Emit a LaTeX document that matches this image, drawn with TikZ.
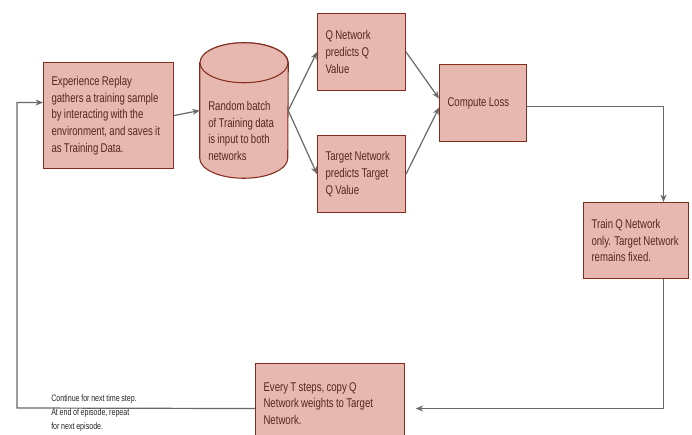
\documentclass[tikz,border=0pt]{standalone}
\usepackage{fontspec}
\setmainfont{Liberation Sans}[FakeStretch=0.76, WordSpace=0.85]
\usetikzlibrary{arrows.meta}
\definecolor{boxfill}{RGB}{230,184,175}
\definecolor{boxline}{RGB}{133,45,30}
\definecolor{boxtext}{RGB}{85,40,35}
\definecolor{wire}{RGB}{105,105,105}
\newcommand{\nohyph}{\hyphenpenalty10000\relax}

\begin{document}
\begin{tikzpicture}[
  x=0.75pt, y=-0.75pt,
  font=\fontsize{9.5}{12.6}\selectfont, >={Stealth[length=5.5pt,width=4.5pt]},
  stepbox/.style={draw=boxline, fill=boxfill, line width=0.8pt, anchor=north west, align=flush left, inner xsep=6pt, text=boxtext,
                  execute at begin node={\nohyph}},
  drum/.style={draw=boxline, fill=boxfill, line width=0.8pt},
  flow/.style={->, line width=0.9pt, draw=wire},
  note/.style={font=\fontsize{7}{10.5}\selectfont, align=left, inner sep=0pt, anchor=north west, text=black!85},
]
\useasboundingbox (0,0) rectangle (692,435);
\fill[white] (0,0) rectangle (692,435);

% ------------------------------------------------------------------ steps
\node[stepbox, text width=85.5pt, minimum height=79.5pt] (replay) at (43,62)
  {Experience Replay\\gathers a training sample\\by interacting with the\\environment, and saves it\\as Training Data.};

% data store drawn as a drum round an empty node
\node[minimum width=66pt, minimum height=101.25pt, inner sep=0pt] (batch) at (244,110.5) {};
\path[drum] ([yshift=-15pt]batch.north west) -- ([yshift=15pt]batch.south west)
  arc[start angle=180, end angle=360, x radius=33pt, y radius=15pt]
  -- ([yshift=-15pt]batch.north east)
  arc[start angle=0, end angle=180, x radius=33pt, y radius=15pt] -- cycle;
\draw[drum] ([yshift=-15pt]batch.north) ellipse[x radius=33pt, y radius=15pt];
\node[anchor=west, align=left, inner sep=0pt, text=boxtext] (batchtext) at (208,131)
  {Random batch\\of Training data\\is input to both\\networks};

\node[stepbox, text width=54pt, minimum height=57.75pt] (qnet) at (317,13)
  {Q Network\\predicts Q\\Value};
\node[stepbox, text width=54pt, minimum height=57.75pt] (target) at (317,135)
  {Target Network\\predicts Target\\Q Value};

\node[stepbox, text width=53.25pt, minimum height=57.75pt] (loss) at (439,64)
  {Compute Loss};

\node[stepbox, text width=66.75pt, minimum height=57pt] (train) at (583,202)
  {Train Q Network\\only. Target Network\\remains fixed.};

\node[stepbox, text width=99.75pt, minimum height=60pt] (copy) at (255,363)
  {Every T steps, copy Q\\Network weights to Target\\Network.};

% ------------------------------------------------------------------ flow
\draw[flow] (replay.east) -- (batch.west);
\draw[flow] (batch.east) -- (qnet.west);
\draw[flow] (batch.east) -- (target.west);
\draw[flow] (qnet.east) -- ([yshift=3.4pt]loss.west);
\draw[flow] (target.east) -- ([yshift=-3.4pt]loss.west);
\draw[flow] ([yshift=-2.6pt]loss.east) -| ([xshift=20.6pt]train.north);
\draw[flow, shorten >=8pt] ([xshift=20.6pt]train.south) |- ([yshift=-3.75pt]copy.east);

% ------------------------------------------------------------------ loop back
\coordinate (loopback) at (17,408);
\draw[flow] ([yshift=-3.75pt]copy.west) -- (loopback) |- ([yshift=9.75pt]replay.west);
\node[note] (loopnote) at (51,394)
  {Continue for next time step.\\At end of episode, repeat\\for next episode.};
\end{tikzpicture}
\end{document}
